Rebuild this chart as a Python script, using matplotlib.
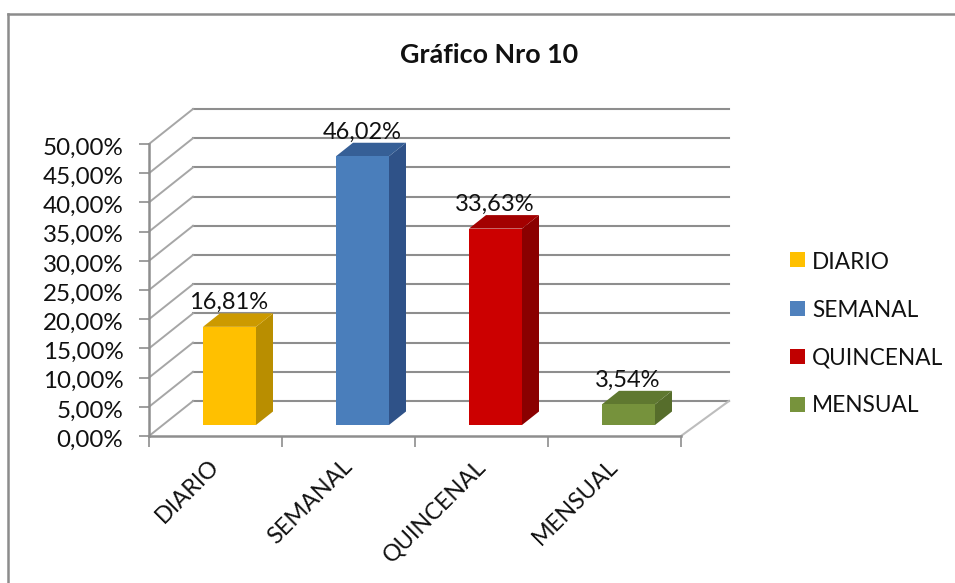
import matplotlib
matplotlib.use("Agg")
import matplotlib.pyplot as plt
from matplotlib.lines import Line2D
from matplotlib.patches import Polygon, Rectangle
from matplotlib.ticker import FuncFormatter
from matplotlib.transforms import ScaledTranslation

categories = ["DIARIO", "SEMANAL", "QUINCENAL", "MENSUAL"]
values = [16.81, 46.02, 33.63, 3.54]
value_labels = ["16,81%", "46,02%", "33,63%", "3,54%"]
y_ticks = [0, 5, 10, 15, 20, 25, 30, 35, 40, 45, 50]

front_colors = ["#FFC000", "#4A7EBB", "#CC0000", "#76923C"]
side_colors = ["#B98E00", "#2F5288", "#8A0000", "#566D2B"]
top_colors = ["#CC9A00", "#365F96", "#A30000", "#5F7830"]
legend_colors = ["#FFC000", "#4F81BD", "#C00000", "#77933C"]

W, H = 955, 583
plt.rcParams["font.family"] = ["Lato", "DejaVu Sans"]

fig = plt.figure(figsize=(W / 100, H / 100), dpi=100, facecolor="white")

# chart frame, only the left and top edges are drawn
frame = dict(transform=fig.transFigure, color="#8C8C8C", lw=1.8)
fig.add_artist(Line2D([8 / W, 8 / W], [0, 1 - 14 / H], **frame))
fig.add_artist(Line2D([8 / W, 1], [1 - 14 / H, 1 - 14 / H], **frame))

# axes cover the front plane of the 3D box, everything else is drawn unclipped
ax = fig.add_axes([149 / W, 1 - 436 / H, 532 / W, 292 / H])
ax.set_xlim(0, 4)
ax.set_ylim(0, 50)
ax.patch.set_visible(False)

# depth of the box and of the bars in data units
unit_x = 133.0
unit_y = 5.84
depth_x, depth_y = 44 / unit_x, 35 / unit_y
wall_right = 4 + 48 / unit_x
bar_dx, bar_dy = 17 / unit_x, 13.5 / unit_y
bar_left = 54 / unit_x
bar_width = 53 / unit_x
bar_base = 11 / unit_y

grid_color = "#8E8E8E"
diag_color = "#A6A6A6"
for t in y_ticks:
    ax.plot([depth_x, wall_right], [t + depth_y, t + depth_y], color=grid_color, lw=1.5,
            clip_on=False, zorder=1)
    ax.plot([0, depth_x], [t, t + depth_y], color=diag_color, lw=1.4, clip_on=False, zorder=1)
ax.plot([4, wall_right], [0, depth_y], color="#BDBDBD", lw=1.5, clip_on=False, zorder=1)

for i, v in enumerate(values):
    x0 = i + bar_left
    x1 = x0 + bar_width
    # bars stand on the floor, a little in front of the back wall
    y1 = bar_base + v
    side = [(x1, bar_base), (x1 + bar_dx, bar_base + bar_dy),
            (x1 + bar_dx, y1 + bar_dy), (x1, y1)]
    top = [(x0, y1), (x0 + bar_dx, y1 + bar_dy), (x1 + bar_dx, y1 + bar_dy), (x1, y1)]
    ax.add_patch(Polygon(side, facecolor=side_colors[i], edgecolor="none", clip_on=False, zorder=3))
    ax.add_patch(Polygon(top, facecolor=top_colors[i], edgecolor="none", clip_on=False, zorder=3))
    ax.add_patch(Rectangle((x0, bar_base), bar_width, v, facecolor=front_colors[i],
                           edgecolor="none", clip_on=False, zorder=3))
    ax.text(x0 + bar_width / 2 - 0.005, y1 + bar_dy + 1.8, value_labels[i], ha="center", va="center",
            fontsize=17, color="#111111", zorder=4)

for side_name in ["top", "right"]:
    ax.spines[side_name].set_visible(False)
for side_name in ["left", "bottom"]:
    ax.spines[side_name].set_color(grid_color)
    ax.spines[side_name].set_linewidth(1.8)

ax.set_yticks(y_ticks)
ax.yaxis.set_major_formatter(FuncFormatter(lambda v, _: f"{v:.2f}%".replace(".", ",")))
ax.tick_params(axis="y", length=7, width=1.2, color=grid_color, labelsize=17.4,
               labelcolor="#111111", pad=11.5)
y_shift = ScaledTranslation(0, -1.5 / 72, fig.dpi_scale_trans)
for label in ax.get_yticklabels():
    label.set_transform(label.get_transform() + y_shift)

ax.set_xticks(range(5))
ax.set_xticklabels([])
ax.set_xticks([i + 0.5 for i in range(4)], minor=True)
ax.set_xticklabels(categories, minor=True, rotation=45, ha="right", rotation_mode="anchor",
                   fontsize=16.8, color="#111111")
ax.tick_params(axis="x", which="major", length=8, width=1.2, color=grid_color, direction="out")
ax.tick_params(axis="x", which="minor", length=0, pad=14)
x_shift = ScaledTranslation(-5 / 72, 0, fig.dpi_scale_trans)
for label in ax.get_xticklabels(minor=True):
    label.set_transform(label.get_transform() + x_shift)

fig.text(489 / W, 1 - 55 / H, "Gráfico Nro 10", ha="center", va="center",
         fontsize=19.4, fontweight="bold", color="#111111")

# legend keys and labels stacked on the right
legend_y = [260, 308, 356, 404]
for name, color, py in zip(categories, legend_colors, legend_y):
    fig.add_artist(Rectangle((790 / W, 1 - (py + 7.5) / H), 15 / W, 15 / H,
                             transform=fig.transFigure, facecolor=color, edgecolor="none"))
    fig.text(812 / W, 1 - (py + 2) / H, name, ha="left", va="center", fontsize=16.3, color="#111111")

fig.savefig("out.png", dpi=100)
